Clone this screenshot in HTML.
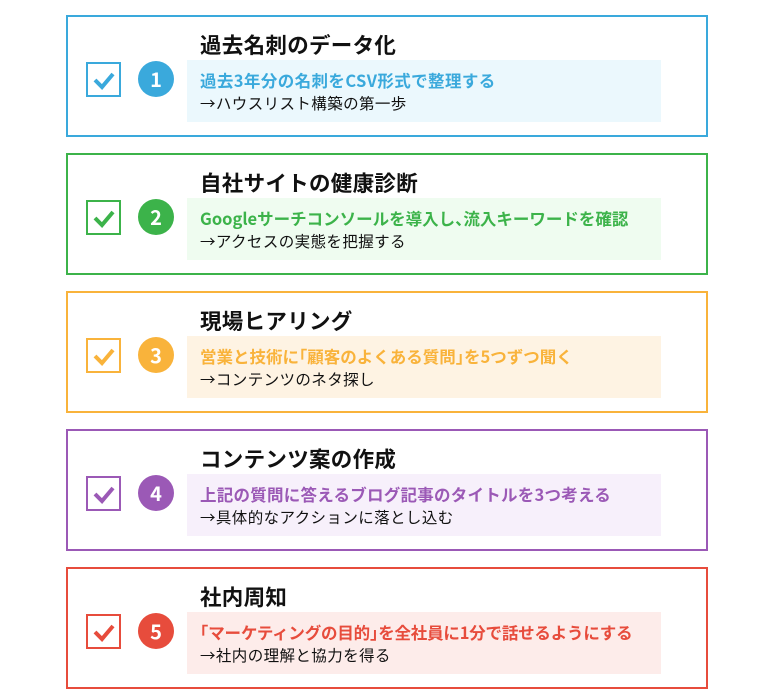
<!DOCTYPE html>
<html><head><meta charset="utf-8"><style>
body{margin:0;width:770px;height:700px;background:#fff;font-family:"Noto Sans CJK JP","Liberation Sans",sans-serif;position:relative;overflow:hidden}
.b{position:absolute;left:66px;width:638px;height:118px;border:2px solid}
.t{position:absolute;left:132px;top:14px;font-size:21.5px;font-weight:bold;color:#111;line-height:28px;white-space:nowrap;letter-spacing:0.3px}
.p{position:absolute;left:119px;top:43px;width:474px;height:62px}
.l1{position:absolute;left:13px;top:9px;font-size:16.5px;font-weight:bold;line-height:22px;white-space:nowrap;letter-spacing:0.25px}
.l2{position:absolute;left:13px;top:32px;font-size:15.5px;color:#111;line-height:22px;white-space:nowrap;letter-spacing:0.4px}
.h{font-feature-settings:"halt";letter-spacing:0}
.c{position:absolute;left:18px;top:45px;width:31px;height:31px;border:2px solid}
.c svg{position:absolute;left:4px;top:6px}
.n{position:absolute;left:70px;top:44px;width:36px;height:36px;border-radius:50%;color:#fff;font-weight:bold;font-size:20px;text-align:center;line-height:36px}
</style></head><body>

<div class="b" style="top:15px;border-color:#3aa9dc">
<div class="t">過去名刺のデータ化</div>
<div class="c" style="border-color:#3aa9dc"><svg width="24" height="20"><path d="M3 10 L10 17 L21 4" stroke="#3aa9dc" stroke-width="4" fill="none"/></svg></div>
<div class="n" style="background:#3aa9dc">1</div>
<div class="p" style="background:#ebf8fd"><div class="l1" style="color:#3aa9dc;letter-spacing:0.4px">過去3年分の名刺をCSV形式で整理する</div><div class="l2">→ハウスリスト構築の第一歩</div></div>
</div>

<div class="b" style="top:153px;border-color:#3cb34a">
<div class="t">自社サイトの健康診断</div>
<div class="c" style="border-color:#3cb34a"><svg width="24" height="20"><path d="M3 10 L10 17 L21 4" stroke="#3cb34a" stroke-width="4" fill="none"/></svg></div>
<div class="n" style="background:#3cb34a">2</div>
<div class="p" style="background:#effcf0"><div class="l1" style="color:#3cb34a;letter-spacing:0">Googleサーチコンソールを導入し<span class="h">、</span>流入キーワードを確認</div><div class="l2">→アクセスの実態を把握する</div></div>
</div>

<div class="b" style="top:291px;border-color:#f9b33b">
<div class="t">現場ヒアリング</div>
<div class="c" style="border-color:#f9b33b"><svg width="24" height="20"><path d="M3 10 L10 17 L21 4" stroke="#f9b33b" stroke-width="4" fill="none"/></svg></div>
<div class="n" style="background:#f9b33b">3</div>
<div class="p" style="background:#fef3e3"><div class="l1" style="color:#f9b33b;letter-spacing:0">営業と技術に<span class="h">「</span>顧客のよくある質問<span class="h">」</span>を5つずつ聞く</div><div class="l2">→コンテンツのネタ探し</div></div>
</div>

<div class="b" style="top:429px;border-color:#9b59b6">
<div class="t">コンテンツ案の作成</div>
<div class="c" style="border-color:#9b59b6"><svg width="24" height="20"><path d="M3 10 L10 17 L21 4" stroke="#9b59b6" stroke-width="4" fill="none"/></svg></div>
<div class="n" style="background:#9b59b6">4</div>
<div class="p" style="background:#f7f0fb"><div class="l1" style="color:#9b59b6">上記の質問に答えるブログ記事のタイトルを3つ考える</div><div class="l2">→具体的なアクションに落とし込む</div></div>
</div>

<div class="b" style="top:567px;border-color:#e74c3c">
<div class="t">社内周知</div>
<div class="c" style="border-color:#e74c3c"><svg width="24" height="20"><path d="M3 10 L10 17 L21 4" stroke="#e74c3c" stroke-width="4" fill="none"/></svg></div>
<div class="n" style="background:#e74c3c">5</div>
<div class="p" style="background:#fdecea"><div class="l1" style="color:#e74c3c;letter-spacing:-0.2px"><span class="h">「</span>マーケティングの目的<span class="h">」</span>を全社員に1分で話せるようにする</div><div class="l2">→社内の理解と協力を得る</div></div>
</div>

</body></html>
